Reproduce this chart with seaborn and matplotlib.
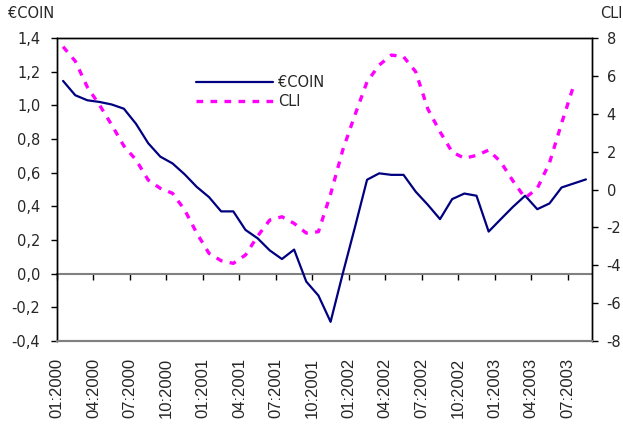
import numpy as np
import pandas as pd
import matplotlib
matplotlib.use("Agg")
import matplotlib.pyplot as plt
import seaborn as sns

months = ["01:2000", "02:2000", "03:2000", "04:2000", "05:2000", "06:2000",
          "07:2000", "08:2000", "09:2000", "10:2000", "11:2000", "12:2000",
          "01:2001", "02:2001", "03:2001", "04:2001", "05:2001", "06:2001",
          "07:2001", "08:2001", "09:2001", "10:2001", "11:2001", "12:2001",
          "01:2002", "02:2002", "03:2002", "04:2002", "05:2002", "06:2002",
          "07:2002", "08:2002", "09:2002", "10:2002", "11:2002", "12:2002",
          "01:2003", "02:2003", "03:2003", "04:2003", "05:2003", "06:2003",
          "07:2003", "08:2003"]

coin = [1.145, 1.06, 1.03, 1.02, 1.005, 0.98, 0.89, 0.775, 0.695, 0.655,
        0.59, 0.515, 0.455, 0.37, 0.37, 0.26, 0.21, 0.138, 0.087, 0.143,
        -0.047, -0.13, -0.286, 0.0, 0.275, 0.558, 0.596, 0.587, 0.587, 0.487,
        0.409, 0.324, 0.443, 0.476, 0.463, 0.25, 0.324, 0.397, 0.463, 0.383,
        0.417, 0.512, 0.536, 0.56]

cli = [7.54, 6.78, 5.4, 4.46, 3.41, 2.3, 1.56, 0.5, 0.06, -0.2,
       -1.08, -2.31, -3.37, -3.76, -3.9, -3.46, -2.46, -1.61, -1.44, -1.79,
       -2.3, -2.23, -0.25, 2.08, 3.93, 5.69, 6.57, 7.1, 7.01, 6.22,
       4.25, 3.05, 1.98, 1.65, 1.8, 2.08, 1.45, 0.45, -0.45, 0.06,
       1.4, 3.5, 5.5, np.nan]

tick_labels = ["01:2000", "04:2000", "07:2000", "10:2000", "01:2001",
               "04:2001", "07:2001", "10:2001", "01:2002", "04:2002",
               "07:2002", "10:2002", "01:2003", "04:2003", "07:2003"]

left_ticks = [-0.4, -0.2, 0.0, 0.2, 0.4, 0.6, 0.8, 1.0, 1.2, 1.4]
right_ticks = [-8, -6, -4, -2, 0, 2, 4, 6, 8]

df = pd.DataFrame({"month": months, "coin": coin, "cli": cli})
df["pos"] = np.arange(len(df)) + 0.5
tick_pos = [months.index(t) for t in tick_labels]

sns.set_style("white")
plt.rcParams["font.family"] = ["DejaVu Sans"]

fig = plt.figure(figsize=(6.23, 4.28), dpi=100)
ax = fig.add_axes([57 / 623, 1 - 341 / 428, (592 - 57) / 623, (341 - 38) / 428])
ax2 = ax.twinx()

sns.lineplot(data=df, x="pos", y="coin", ax=ax, color="#000080",
             linewidth=1.6, label="€COIN", legend=False)
sns.lineplot(data=df, x="pos", y="cli", ax=ax2, color="#FF00FF",
             linewidth=2.4, linestyle=(0, (2.0, 2.2)), label="CLI", legend=False)

ax.set_xlim(0, len(months))
ax.set_ylim(-0.4, 1.4)
ax2.set_ylim(-8, 8)

ax.set_xticks(tick_pos)
ax.set_xticklabels(tick_labels, rotation=90, fontsize=12,
                   family="Liberation Sans")
ax.tick_params(axis="x", length=0, pad=12)
ax.set_yticks(left_ticks)
ax.set_yticklabels([f"{v:.1f}".replace(".", ",") for v in left_ticks], fontsize=10.5)
ax.tick_params(axis="y", direction="out", length=4, width=1, color="black",
               pad=8, left=True)
ax2.set_yticks(right_ticks)
ax2.set_yticklabels([str(v) for v in right_ticks], fontsize=10.5)
ax2.tick_params(axis="y", direction="out", length=4, width=1, color="black",
                pad=6.5, right=True)

ax.set_xlabel("")
ax.set_ylabel("")
ax2.set_ylabel("")

for a in (ax, ax2):
    for s in ("left", "right", "top"):
        a.spines[s].set_color("black")
        a.spines[s].set_linewidth(1.0)
    a.spines["bottom"].set_color("#808080")
    a.spines["bottom"].set_linewidth(1.5)

sec = ax.secondary_xaxis(0, transform=ax.transData)
sec.set_xticks(tick_pos)
sec.set_xticklabels([])
sec.tick_params(axis="x", direction="out", length=4, width=1, color="black")
sec.spines["bottom"].set_color("#808080")
sec.spines["bottom"].set_linewidth(1.5)

fig.text(31 / 623, 1 - 14 / 428, "€COIN", fontsize=10.5, ha="center", va="center")
fig.text(611 / 623, 1 - 14 / 428, "CLI", fontsize=10.5, ha="center", va="center")

handles = [ax.get_lines()[0], ax2.get_lines()[0]]
fig.legend(handles, ["€COIN", "CLI"], loc="upper left",
           bbox_to_anchor=(196 / 623, 1 - 75 / 428), frameon=False,
           fontsize=10.5, handlelength=5.3, handletextpad=0.35,
           labelspacing=0.3, borderpad=0, borderaxespad=0)

fig.savefig("out.png", dpi=100)
